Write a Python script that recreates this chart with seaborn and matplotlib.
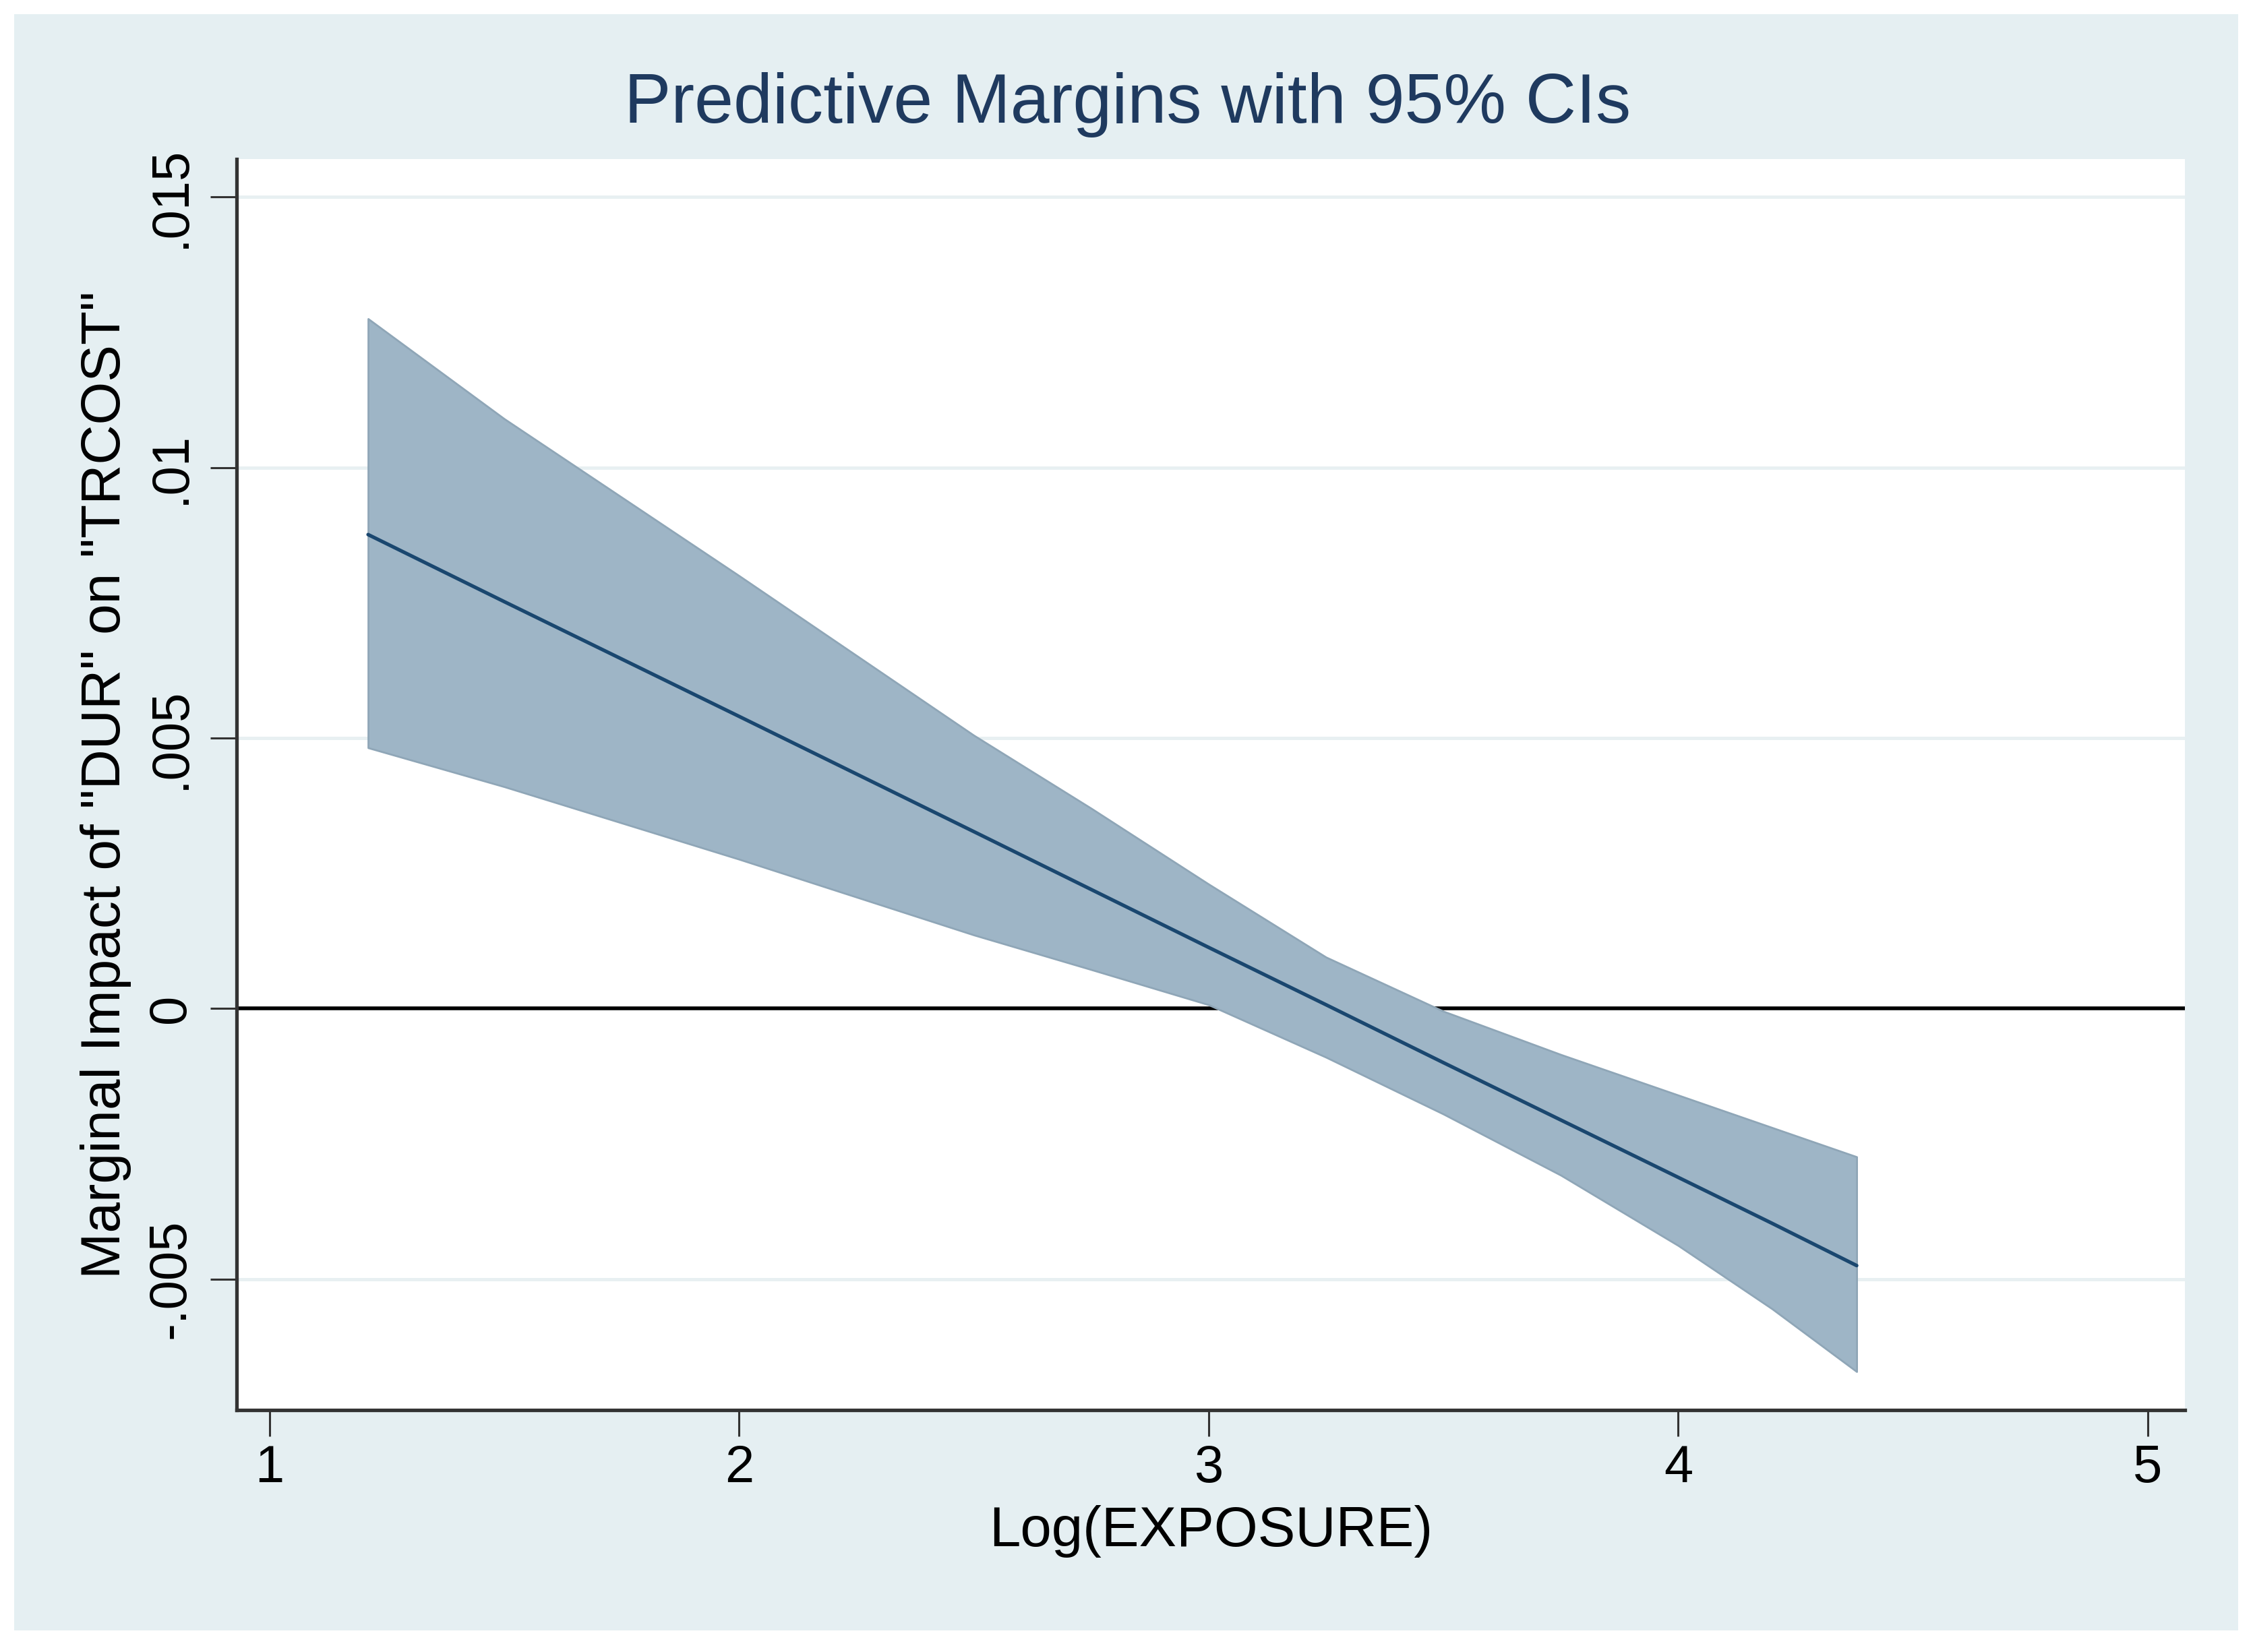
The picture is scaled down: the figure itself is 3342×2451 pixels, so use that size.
import numpy as np
import pandas as pd
import matplotlib
matplotlib.use("Agg")
import matplotlib.pyplot as plt
from matplotlib.patches import Rectangle
import seaborn as sns

# Values (Stata margins plot)
log_exposure = [1.21, 1.5, 2.0, 2.5, 2.75, 3.0, 3.25, 3.5, 3.75, 4.0, 4.2, 4.38]
margin = [0.00876, 0.00752, 0.00540, 0.00327, 0.00220, 0.00113, 0.00007,
          -0.00100, -0.00206, -0.00312, -0.00397, -0.00475]
ci_upper = [0.01275, 0.01090, 0.00800, 0.00505, 0.00370, 0.00230, 0.00095,
            -0.00005, -0.00085, -0.00160, -0.00220, -0.00274]
ci_lower = [0.00482, 0.00410, 0.00276, 0.00136, 0.00072, 0.00007, -0.00090,
            -0.00195, -0.00308, -0.00438, -0.00555, -0.00671]

y_ticks = [-0.005, 0, 0.005, 0.01, 0.015]
y_tick_labels = ["-.005", "0", ".005", ".01", ".015"]
x_ticks = [1, 2, 3, 4, 5]

df = pd.DataFrame({"x": log_exposure, "margin": margin,
                   "lo": ci_lower, "hi": ci_upper})

sns.set_theme(style="white")
plt.rcParams["font.family"] = ["Liberation Sans", "DejaVu Sans"]

W, H = 3342, 2451
fig = plt.figure(figsize=(W / 200, H / 200), dpi=200, facecolor="white")

# light Stata-style graph region
fig.patches.append(Rectangle((21 / W, 1 - 2419 / H), (3320 - 21) / W, (2419 - 21) / H,
                             transform=fig.transFigure, facecolor="#E5EFF2",
                             edgecolor="none", zorder=-1))

ax = fig.add_axes([351 / W, 1 - 2092 / H, (3241 - 351) / W, (2092 - 236) / H])
ax.set_facecolor("white")

# grid + zero line
for yt in y_ticks:
    ax.axhline(yt, color="#E8F0F2", lw=1.8, zorder=0)
ax.axhline(0, color="black", lw=2.0, zorder=1)

# CI band and margin line
ax.fill_between(df["x"], df["lo"], df["hi"], facecolor="#9EB5C6",
                edgecolor="#8FA6B7", lw=1.0, zorder=2)
sns.lineplot(data=df, x="x", y="margin", color="#1A476F", lw=1.9, ax=ax, zorder=3)

ax.set_xlim(0.93, 5.079)
ax.set_ylim(-0.00742, 0.0157)
ax.set_xticks(x_ticks)
ax.set_xticklabels([str(t) for t in x_ticks])
ax.set_yticks(y_ticks)
ax.set_yticklabels(y_tick_labels, rotation=90, va="center")

for s in ["top", "right"]:
    ax.spines[s].set_visible(False)
for s in ["left", "bottom"]:
    ax.spines[s].set_color("#333333")
    ax.spines[s].set_linewidth(1.9)

ax.tick_params(axis="both", which="major", direction="out", length=14, width=1.1,
               color="#333333", labelsize=28, labelcolor="black", pad=4,
               bottom=True, left=True)
ax.tick_params(axis="y", pad=8)

ax.set_xlabel("Log(EXPOSURE)", fontsize=30, color="black")
ax.set_ylabel('Marginal Impact of "DUR" on "TRCOST"', fontsize=29.5, color="black")
ax.xaxis.set_label_coords(0.5, -0.076)
ax.xaxis.label.set_va("top")
ax.yaxis.set_label_coords(-0.054, 0.5)

fig.text(0.5006, 1 - 182 / H, "Predictive Margins with 95% CIs", fontsize=37.5,
         color="#1F3A5F", ha="center", va="baseline")

fig.savefig("out.png", dpi=200, facecolor="white")
